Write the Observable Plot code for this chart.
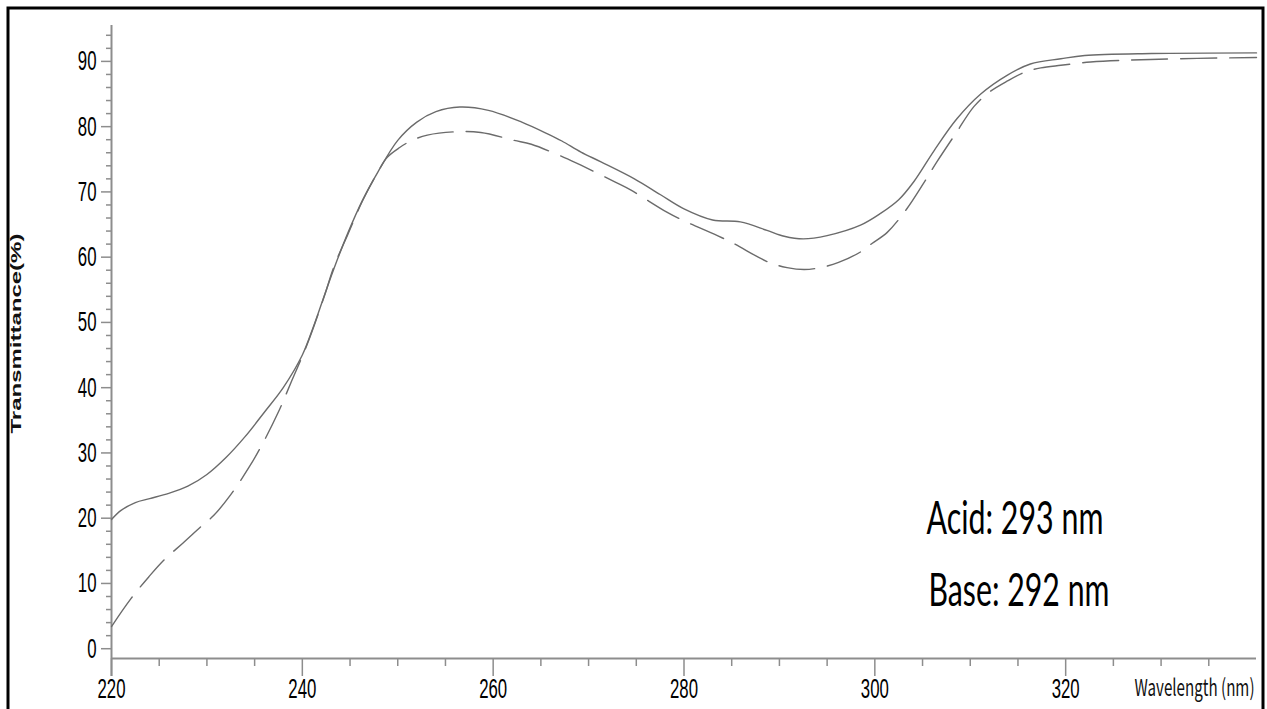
<!DOCTYPE html>
<html>
<head>
<meta charset="utf-8">
<script src="https://cdn.jsdelivr.net/npm/d3@7"></script>
<script src="https://cdn.jsdelivr.net/npm/@observablehq/plot@0.6"></script>
<style>
html, body { margin: 0; padding: 0; background: #fff; overflow: hidden; }
svg { display: block; }
</style>
</head>
<body>
<div id="chart"></div>
<script>
// ---- Data ----
// Solid curve (acid)
const acidWavelength = [220, 221, 222.5, 224, 226, 228, 230, 232, 234, 236, 238, 240, 241.2, 242.3, 243.3, 244.8, 246.3, 247.9, 250, 252, 254, 256.5, 259.5, 263, 265.7, 267.2, 269.2, 271.3, 274.8, 277.5, 280, 283, 285.9, 288.7, 290.5, 292.5, 295, 298.5, 300.6, 302.5, 304.1, 306.2, 308.6, 311.1, 313.9, 316.3, 319.5, 322, 329, 340];
const acidT = [19.8, 21.2, 22.4, 23.0, 23.8, 24.9, 26.7, 29.3, 32.5, 36.2, 40.0, 45.0, 49.5, 54.1, 58.2, 63.8, 68.7, 73.0, 77.9, 80.7, 82.3, 83.0, 82.5, 80.7, 78.9, 77.8, 76.1, 74.6, 72.0, 69.6, 67.4, 65.7, 65.4, 64.1, 63.2, 62.8, 63.3, 64.9, 66.7, 68.8, 71.6, 76.3, 81.2, 85.0, 87.9, 89.6, 90.4, 90.9, 91.2, 91.3];
// Dashed curve (base)
const baseWavelength = [220, 222, 223.9, 225.5, 227.5, 229.3, 230.7, 232.5, 234.5, 235.9, 237.5, 238.9, 240.5, 242.3, 243.3, 244.8, 246.3, 247.9, 248.9, 250.2, 251.5, 253.1, 255.9, 258.7, 262.2, 264, 267.4, 269.2, 272.8, 274.4, 278.2, 279.8, 283.5, 285.2, 288.9, 290.8, 292.6, 294.3, 296.2, 298.5, 299.7, 301.3, 303.3, 305.1, 306.5, 308.5, 310.4, 312, 313.9, 315.8, 317.4, 319.5, 322.6, 328.9, 340];
const baseT = [3.4, 7.6, 11.0, 13.6, 16.2, 18.6, 20.4, 23.6, 28.0, 31.6, 36.3, 41.1, 46.6, 54.0, 58.5, 63.6, 68.6, 73.0, 75.3, 76.8, 77.9, 78.7, 79.2, 79.1, 77.9, 77.3, 75.3, 74.1, 71.5, 70.3, 66.9, 65.7, 63.3, 62.1, 59.2, 58.4, 58.1, 58.4, 59.2, 60.8, 62.1, 63.8, 67.3, 71.3, 74.6, 79.0, 83.1, 85.3, 87.0, 88.4, 89.0, 89.4, 89.9, 90.3, 90.6];

const xDomain = [220, 340];
const yDomain = [-1.5, 95.5];
const xMajorTicks = [220, 240, 260, 280, 300, 320];
const xMinorTicks = [225, 230, 235, 245, 250, 255, 265, 270, 275, 285, 290, 295, 305, 310, 315, 325, 330, 335];
const yMajorTicks = [0, 10, 20, 30, 40, 50, 60, 70, 80, 90];
const yMinorTicks = [2, 4, 6, 8, 12, 14, 16, 18, 22, 24, 26, 28, 32, 34, 36, 38, 42, 44, 46, 48, 52, 54, 56, 58, 62, 64, 66, 68, 72, 74, 76, 78, 82, 84, 86, 88, 92, 94];

const xLabel = "Wavelength (nm)";
const yLabel = "Transmittance(%)";
const annotations = ["Acid: 293 nm", "Base: 292 nm"];

// ---- Build ----
const acid = acidWavelength.map((w, i) => ({w, t: acidT[i]}));
const base = baseWavelength.map((w, i) => ({w, t: baseT[i]}));

const axisGrey = "#8d8d8d";
const curveGrey = "#6b6b6b";

const plot = Plot.plot({
  width: 1267,
  height: 709,
  marginLeft: 111,
  marginRight: 11,
  marginTop: 25,
  marginBottom: 51,
  x: {domain: xDomain},
  y: {domain: yDomain},
  style: {background: "white", color: "black", fontFamily: "'Liberation Sans', Arial, sans-serif"},
  marks: [
    Plot.frame({stroke: "black", strokeWidth: 3, insetLeft: -103.5, insetTop: -17.5, insetRight: -6.5, insetBottom: -60}),
    Plot.ruleY([yDomain[0]], {stroke: axisGrey, strokeWidth: 2}),
    Plot.ruleX([xDomain[0]], {stroke: axisGrey, strokeWidth: 2, insetBottom: -18}),
    Plot.axisX({ticks: xMinorTicks, tickSize: 8, stroke: axisGrey, strokeWidth: 1.5, tickFormat: () => "", label: null}),
    Plot.axisX({ticks: xMajorTicks, tickSize: 18, tickPadding: 2, stroke: axisGrey, strokeWidth: 1.5, fill: "black", fontSize: 28, tickFormat: d => String(d), label: null}),
    Plot.axisY({ticks: yMinorTicks, tickSize: 5, stroke: axisGrey, strokeWidth: 1.5, tickFormat: () => "", label: null}),
    Plot.axisY({ticks: yMajorTicks, tickSize: 10, tickPadding: 5, stroke: axisGrey, strokeWidth: 1.5, fill: "black", fontSize: 28, tickFormat: d => String(d), label: null}),
    Plot.line(acid, {x: "w", y: "t", curve: "catmull-rom", stroke: curveGrey, strokeWidth: 1.4}),
    Plot.line(base, {x: "w", y: "t", curve: "catmull-rom", stroke: curveGrey, strokeWidth: 1.4, strokeDasharray: "36,13"}),
    Plot.text([yLabel], {text: d => d, frameAnchor: "left", textAnchor: "start", dx: -95.5, dy: 91.5, rotate: -90, fontSize: 15, fontWeight: "bold", fontFamily: "'Liberation Sans', Arial, sans-serif", fill: "#111"}),
    Plot.text([xLabel], {text: d => d, frameAnchor: "bottom-right", textAnchor: "end", lineAnchor: "bottom", dx: -2, dy: 37, fontSize: 23, fontFamily: "'Noto Sans CJK JP', 'Noto Sans', sans-serif", fill: "#111"}),
    Plot.text([annotations[0]], {text: d => d, frameAnchor: "bottom-left", textAnchor: "start", lineAnchor: "bottom", dx: 815, dy: -125, fontSize: 47, fontFamily: "Lato, 'Open Sans', sans-serif", fill: "black"}),
    Plot.text([annotations[1]], {text: d => d, frameAnchor: "bottom-left", textAnchor: "start", lineAnchor: "bottom", dx: 817, dy: -53, fontSize: 47, fontFamily: "Lato, 'Open Sans', sans-serif", fill: "black"})
  ]
});

document.getElementById("chart").appendChild(plot);

// ---- Typographic adjustments (condensed fonts of the original) ----
function squeeze(el, s) {
  const t = el.getAttribute("transform");
  if (t) {
    el.setAttribute("transform", t + ` scale(${s},1)`);
  } else {
    const x = +el.getAttribute("x") || 0, y = +el.getAttribute("y") || 0;
    el.removeAttribute("x"); el.removeAttribute("y");
    el.setAttribute("transform", `translate(${x},${y}) scale(${s},1)`);
  }
}
const svgSel = d3.select(plot.tagName.toLowerCase() === "svg" ? plot : plot.querySelector("svg"));
svgSel.selectAll('g[aria-label="x-axis tick label"] text, g[aria-label="y-axis tick label"] text').each(function() {
  squeeze(this, 0.6);
});
const fit = {};
fit[yLabel] = 200;
fit[xLabel] = 120;
fit[annotations[0]] = 177;
fit[annotations[1]] = 181;
svgSel.selectAll("text").each(function() {
  const s = this.textContent;
  if (fit[s]) {
    const len = this.getComputedTextLength();
    if (len > 0) squeeze(this, fit[s] / len);
  }
});
</script>
</body>
</html>
